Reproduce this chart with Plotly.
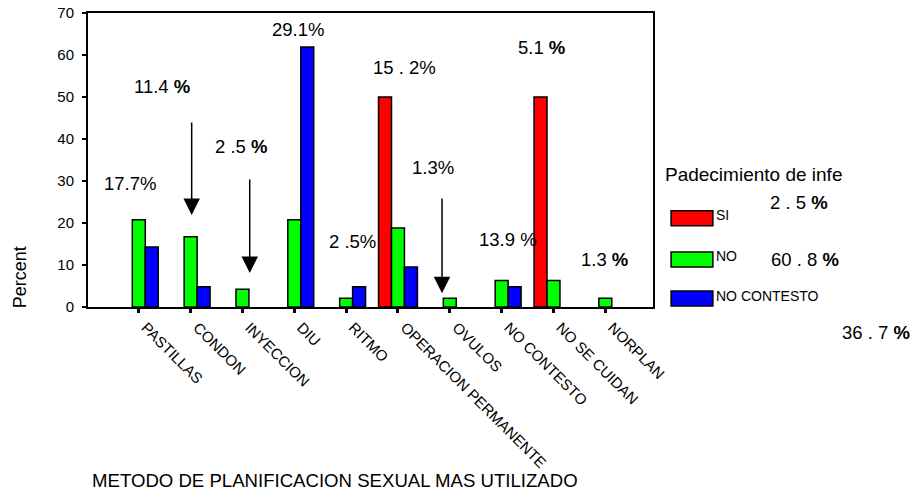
import plotly.graph_objects as go

# metodo de planificacion, percent within each group
metodos = ["PASTILLAS", "CONDON", "INYECCION", "DIU", "RITMO",
           "OPERACION PERMANENTE", "OVULOS", "NO CONTESTO", "NO SE CUIDAN", "NORPLAN"]
si_pct = [None, None, None, None, None, 50.0, None, None, 50.0, None]
no_pct = [20.8, 16.7, 4.2, 20.8, 2.1, 18.8, 2.1, 6.3, 6.3, 2.1]
nc_pct = [14.3, 4.8, None, 61.9, 4.8, 9.5, None, 4.8, None, None]

grupos = ["SI", "NO", "NO CONTESTO"]
colores = ["#ff0000", "#00ff00", "#0000ff"]
y_ticks = [0, 10, 20, 30, 40, 50, 60, 70]

# hand written notes on the chart: (text, x, y)
notas = [("17.7%", -0.17, 29.5), ("11.4 <b>%</b>", 0.44, 52.4), ("2 .5 <b>%</b>", 1.97, 38.3),
         ("29.1%", 3.07, 66.0), ("15 . 2%", 5.12, 57.1), ("2 .5%", 4.13, 15.7),
         ("1.3%", 5.68, 33.1), ("13.9 %", 7.12, 16.0), ("5.1 <b>%</b>", 7.76, 61.7),
         ("1.3 <b>%</b>", 8.98, 11.4)]
flechas = [(1.02, 44.3, 21.9), (2.14, 30.7, 8.1), (5.85, 26.2, 3.3)]  # x, tail y, tip y

FONT = "Liberation Sans, Arial, sans-serif"
xs = list(range(len(metodos)))

fig = go.Figure()
for nombre, vals, col in zip(grupos, [si_pct, no_pct, nc_pct], colores):
    fig.add_trace(go.Bar(x=xs, y=vals, name=nombre,
                         marker=dict(color=col, line=dict(color="black", width=1.5)),
                         showlegend=False))

ann = []
for txt, x, y in notas:
    ann.append(dict(x=x, y=y, xref="x", yref="y", text=txt, showarrow=False,
                    xanchor="center", yanchor="middle",
                    font=dict(size=18.5, color="black", family=FONT)))
for x, y0, y1 in flechas:
    ann.append(dict(x=x, y=y1, ax=x, ay=y0, xref="x", yref="y", axref="x", ayref="y",
                    text="", showarrow=True, arrowhead=2, arrowsize=2.2,
                    arrowwidth=1.5, arrowcolor="black"))

# titles and side notes
ann.append(dict(x=-0.12, y=0.102, xref="paper", yref="paper", text="Percent", textangle=-90,
                xanchor="center", yanchor="middle", showarrow=False,
                font=dict(size=18, color="black", family=FONT)))
ann.append(dict(x=0.0035, y=-0.59, xref="paper", yref="paper", xanchor="left",
                yanchor="middle", text="METODO DE PLANIFICACION SEXUAL MAS UTILIZADO",
                showarrow=False, font=dict(size=18.6, color="black", family=FONT)))
ann.append(dict(x=1.0177, y=0.449, xref="paper", yref="paper", xanchor="left",
                yanchor="middle", text="Padecimiento de infe", showarrow=False,
                font=dict(size=19, color="black", family=FONT)))
for txt, x, y in [("2 . 5 <b>%</b>", 1.258, 0.354), ("60 . 8 <b>%</b>", 1.269, 0.163),
                  ("36 . 7 <b>%</b>", 1.395, -0.088)]:
    ann.append(dict(x=x, y=y, xref="paper", yref="paper", text=txt, showarrow=False,
                    xanchor="center", yanchor="middle",
                    font=dict(size=18.5, color="black", family=FONT)))

# legend made by hand
shapes = []
leg_y = [(0.327, 0.276), (0.187, 0.136), (0.054, 0.003)]
for (top, bot), nombre, col in zip(leg_y, grupos, colores):
    shapes.append(dict(type="rect", xref="paper", yref="paper", x0=1.032, x1=1.106,
                       y0=bot, y1=top, fillcolor=col, line=dict(color="black", width=1.5)))
    ann.append(dict(x=1.108, y=bot + 0.002, xref="paper", yref="paper", xanchor="left",
                    yanchor="bottom", text=nombre, showarrow=False,
                    font=dict(size=14, color="black", family=FONT)))

fig.update_layout(
    width=917, height=491,
    margin=dict(l=88, r=264, t=13, b=184),
    paper_bgcolor="white", plot_bgcolor="white",
    barmode="group", bargap=0.25, bargroupgap=0,
    font=dict(family=FONT, color="black"),
    annotations=ann, shapes=shapes,
    xaxis=dict(range=[-0.98, 9.92], tickmode="array", tickvals=xs, ticktext=metodos,
               tickangle=45, tickfont=dict(size=15), ticks="outside", ticklen=4,
               tickwidth=3, tickcolor="black", showline=True, linecolor="black",
               linewidth=2, mirror=True, showgrid=False, zeroline=False,
               automargin=False, ticklabeloverflow="allow", ticklabelshift=7),
    yaxis=dict(range=[0, 70], tickvals=y_ticks, tickfont=dict(size=15), ticks="outside",
               ticklen=4, tickwidth=2, tickcolor="black", showline=True,
               linecolor="black", linewidth=2, mirror=True, showgrid=False,
               zeroline=False, automargin=False, ticklabeloverflow="allow",
               ticklabelstandoff=5),
)

# drop the default 8px body margin so the figure sits at the page corner
fig.write_html("out.html", config={"displayModeBar": False},
               post_script="document.body.style.margin='0px';")
